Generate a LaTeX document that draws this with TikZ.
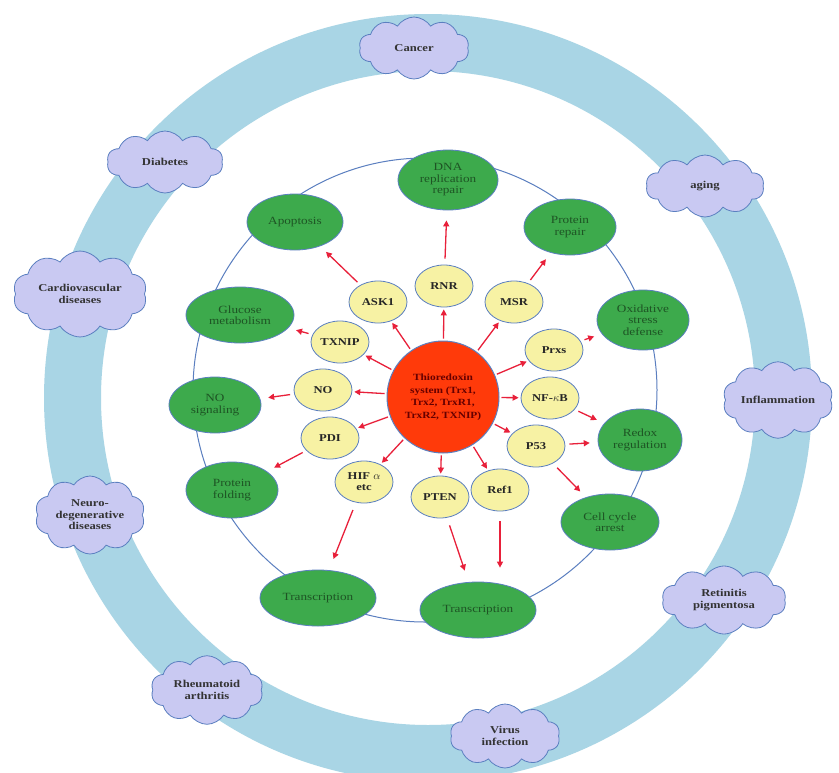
\documentclass[tikz,border=0pt]{standalone}
\usepackage{fontspec}
\setmainfont{Liberation Serif}
\newfontfamily\wideserif[FakeStretch=1.2]{Liberation Serif}
\usetikzlibrary{shapes.symbols,shapes.geometric,arrows.meta}
\definecolor{ringblue}{HTML}{A9D5E5}
\definecolor{edgeblue}{HTML}{5B7FC0}
\definecolor{gfill}{HTML}{3DAA4C}
\definecolor{gtext}{HTML}{1E5424}
\definecolor{yfill}{HTML}{F7F2A4}
\definecolor{rfill}{HTML}{FF3A0A}
\definecolor{cfill}{HTML}{C9C9F2}
\definecolor{arr}{HTML}{E8203A}
\tikzset{
  gnode/.style={ellipse,draw=edgeblue,line width=0.8pt,fill=gfill,minimum width=#1,minimum height=56pt,inner sep=0pt,align=center,text=gtext,font=\wideserif\fontsize{11}{11.5}\selectfont},
  gnode/.default=100pt,
  ynode/.style={ellipse,draw=edgeblue,line width=0.8pt,fill=yfill,minimum width=58pt,minimum height=42pt,inner sep=0pt,align=center,font=\wideserif\fontsize{10.5}{11}\selectfont\bfseries,text=black!85},
  cnode/.style={cloud,cloud puffs=10,cloud puff arc=115,aspect=1.7,draw=edgeblue,line width=0.8pt,fill=cfill,align=center,inner sep=0pt,minimum width=#1,minimum height=62pt,font=\wideserif\fontsize{10.5}{11.5}\selectfont\bfseries,text=black!80},
  cnode/.default=112pt,
  rarr/.style={draw=arr,line width=1.3pt,-{Triangle[length=6pt,width=6pt]}}
}
\begin{document}
\begin{tikzpicture}[x=1pt,y=-1pt]
\useasboundingbox (0,0) rectangle (839,772);
\fill[white] (0,0) rectangle (839,772);
% outer ring
\fill[ringblue,even odd rule] (428,398) circle (384) (428,398) circle (327);
% inner circle
\draw[edgeblue,line width=1pt] (425,390) circle (232);
% center
\node[circle,draw=edgeblue,line width=1pt,fill=rfill,minimum size=112pt,align=center,inner sep=0pt,font=\wideserif\fontsize{9.5}{12.5}\selectfont\bfseries,text=black!60!red] (c) at (443,397) {Thioredoxin\\system (Trx1,\\Trx2, TrxR1,\\TrxR2, TXNIP)};
% green
\node[gnode=100pt,minimum height=60pt] (dna) at (448,180) {DNA\\replication\\repair};
\node[gnode=96pt] (apo) at (295,222) {Apoptosis};
\node[gnode=92pt] (prep) at (570,227) {Protein\\repair};
\node[gnode=108pt] (glu) at (240,315) {Glucose\\metabolism};
\node[gnode=92pt,minimum height=60pt] (ox) at (643,320) {Oxidative\\stress\\defense};
\node[gnode=92pt] (nos) at (215,405) {NO\\signaling};
\node[gnode=84pt,minimum height=62pt] (red) at (640,440) {Redox\\regulation};
\node[gnode=92pt] (pf) at (232,490) {Protein\\folding};
\node[gnode=98pt] (cc) at (610,522) {Cell cycle\\arrest};
\node[gnode=116pt] (tr1) at (318,598) {Transcription};
\node[gnode=116pt] (tr2) at (478,610) {Transcription};
% yellow
\node[ynode] (rnr) at (444,286) {RNR};
\node[ynode] (ask) at (378,302) {ASK1};
\node[ynode] (msr) at (514,302) {MSR};
\node[ynode] (txn) at (340,342) {TXNIP};
\node[ynode] (prx) at (554,350) {Prxs};
\node[ynode] (no) at (323,390) {NO};
\node[ynode] (nfk) at (550,398) {NF-$\kappa$B};
\node[ynode] (pdi) at (330,438) {PDI};
\node[ynode] (p53) at (536,446) {P53};
\node[ynode] (hif) at (364,482) {HIF $\alpha$\\etc};
\node[ynode] (pten) at (440,497) {PTEN};
\node[ynode] (ref) at (500,490) {Ref1};
% arrows center -> yellow
\foreach \t in {rnr,ask,msr,txn,prx,no,nfk,pdi,p53,hif,pten,ref}
  \draw[rarr,shorten <=2pt,shorten >=2pt] (c) -- (\t);
% arrows yellow -> green
\draw[rarr,shorten <=6pt,shorten >=10pt] (rnr) -- (dna);
\draw[rarr,shorten <=4pt,shorten >=8pt] (ask) -- (apo);
\draw[rarr,shorten <=4pt,shorten >=8pt] (msr) -- (prep);
\draw[rarr,shorten <=4pt,shorten >=8pt] (txn) -- (glu);
\draw[rarr,shorten <=4pt,shorten >=8pt] (prx) -- (ox);
\draw[rarr,shorten <=4pt,shorten >=8pt] (no) -- (nos);
\draw[rarr,shorten <=4pt,shorten >=8pt] (nfk) -- (red);
\draw[rarr,shorten <=4pt,shorten >=8pt] (pdi) -- (pf);
\draw[rarr,shorten <=4pt,shorten >=8pt] (p53) -- (red);
\draw[rarr,shorten <=6pt,shorten >=8pt] (p53) -- (cc);
\draw[rarr,shorten <=8pt,shorten >=12pt] (hif) -- (tr1);
\draw[rarr,shorten <=8pt,shorten >=12pt] (pten) -- (tr2);
\draw[rarr,shorten <=10pt,shorten >=14pt] (ref) -- (ref |- tr2.north);
% clouds
\node[cnode=110pt] (can) at (414,48) {Cancer};
\node[cnode=116pt] (dia) at (165,162) {Diabetes};
\node[cnode=118pt] (age) at (705,186) {aging};
\node[cnode=134pt,minimum height=68pt] (cvd) at (80,294) {Cardiovascular\\diseases};
\node[cnode=104pt,minimum height=70pt] (inf) at (778,400) {Inflammation};
\node[cnode=110pt,minimum height=78pt] (neu) at (90,515) {Neuro-\\degenerative\\diseases};
\node[cnode=124pt,minimum height=68pt] (ret) at (724,600) {Retinitis\\pigmentosa};
\node[cnode=112pt,minimum height=68pt] (rhe) at (207,690) {Rheumatoid\\arthritis};
\node[cnode=110pt,minimum height=64pt] (vir) at (505,736) {Virus\\infection};
\end{tikzpicture}
\end{document}
